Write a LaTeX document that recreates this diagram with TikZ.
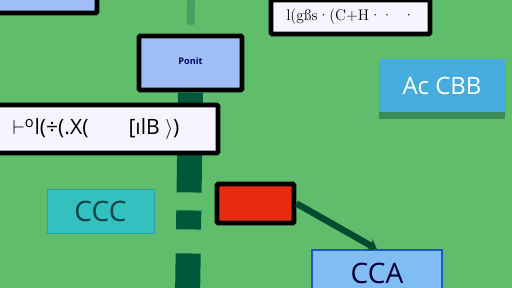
\documentclass[tikz,border=0pt]{standalone}
\usepackage{fontspec}
\setsansfont{Open Sans}
\usetikzlibrary{positioning,arrows.meta,calc}
\definecolor{bggreen}{RGB}{96,189,108}
\definecolor{paleblue}{RGB}{158,190,245}
\definecolor{skyblue}{RGB}{128,189,245}
\definecolor{cyanblue}{RGB}{70,172,222}
\definecolor{tealbox}{RGB}{52,192,190}
\definecolor{tealtext}{RGB}{12,70,72}
\definecolor{alertred}{RGB}{232,42,16}
\definecolor{stemgreen}{RGB}{0,88,58}
\definecolor{feedgreen}{RGB}{70,160,100}
\definecolor{shadegreen}{RGB}{58,138,90}
\definecolor{ccablue}{RGB}{30,90,190}
\tikzset{
  box/.style={draw=black, line width=3.5pt, rounded corners=1pt, inner sep=0pt},
  bluebox/.style={box, fill=paleblue},
  textbox/.style={box, fill=white!96!blue, font=\sffamily\fontsize{15}{17}\selectfont},
  tagbox/.style={inner sep=0pt, fill=cyanblue, text=white, font=\sffamily\fontsize{17}{19}\selectfont},
  cccbox/.style={draw=tealbox!85!black, thin, fill=tealbox, inner sep=0pt,
                 text=tealtext, font=\sffamily\fontsize{20}{22}\selectfont},
  redbox/.style={box, fill=alertred},
  ccabox/.style={draw=ccablue, line width=1.2pt, fill=skyblue, inner sep=0pt,
                 text=black!80!blue, font=\sffamily\fontsize{20}{22}\selectfont},
  stem/.style={stemgreen, line width=17.8pt,
               dash pattern=on 71.1pt off 12.8pt on 13.5pt off 17.1pt on 100pt},
  feed/.style={feedgreen, line width=5.5pt},
  link/.style={-{Stealth[length=2.2mm,width=3.2mm]}, line width=4.6pt, stemgreen!85!black}
}
\begin{document}
\begin{tikzpicture}[x=0.025cm, y=-0.025cm]
\useasboundingbox[fill=bggreen] (0,0) rectangle (512,288);
% stems first, boxes on top
\coordinate (top) at (191,0);
\coordinate (bottom) at (187.5,300);
\node[bluebox, minimum width=107*0.025cm, minimum height=23*0.025cm] (corner) at (43.5,1.5) {};
\node[bluebox, minimum width=103*0.025cm, minimum height=54*0.025cm,
      font=\sffamily\bfseries\fontsize{6.5}{7}\selectfont, text=blue!40!black] (ponit) at (190.5,63) {\raisebox{3pt}{Ponit}};
\draw[feed, shorten <=6.4pt] (ponit.north) -- (top);
\draw[stem] (ponit.south) -- (bottom);
\node[textbox, minimum width=228*0.025cm, minimum height=48*0.025cm] (formula) at (104,129)
  {\hspace{-4mm}$\vdash$\textsuperscript{o}l(÷(.X(\hspace{10mm}[ılB $\rangle$)};
\node[box, fill=white!96!blue, minimum width=159*0.025cm, minimum height=34*0.025cm,
      font=\fontsize{11}{13}\selectfont] (query) at (350.5,17) {l(gßs·(C+H·· \ ·};
\node[tagbox, minimum width=126*0.025cm, minimum height=53*0.025cm] (tag) at (442,85.5) {Ac CBB};
\fill[shadegreen] (tag.south west) rectangle ($(tag.south east)+(0,7)$);
\node[cccbox, minimum width=107*0.025cm, minimum height=44*0.025cm] (ccc) at (100.5,211) {CCC};
\node[redbox, minimum width=77*0.025cm, minimum height=39*0.025cm] (alert) at (255.5,203.5) {};
\node[ccabox, minimum width=130*0.025cm, minimum height=50*0.025cm] (cca) at (377,275) {\raisebox{3pt}{CCA}};
\draw[link] (alert.east) -- (cca.north);
\end{tikzpicture}
\end{document}
